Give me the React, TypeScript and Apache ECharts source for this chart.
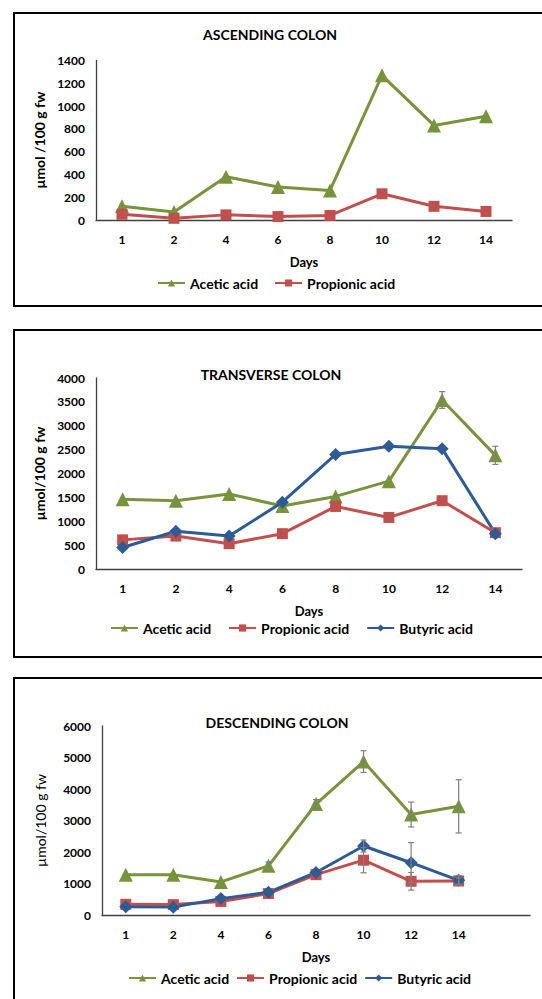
import React, { useEffect, useRef } from "react";
import * as echarts from "echarts";

const days = ["1", "2", "4", "6", "8", "10", "12", "14"];
const days3 = ["1", "2", "4", "6", "8", "10", "12", "14", ""];

// Ascending colon
const ascAcetic = [120, 70, 380, 290, 260, 1270, 830, 910];
const ascPropionic = [50, 15, 45, 30, 40, 230, 120, 75];

// Transverse colon
const trAcetic = [1460, 1430, 1570, 1320, 1520, 1840, 3540, 2380];
const trPropionic = [610, 690, 530, 740, 1310, 1080, 1430, 760];
const trButyric = [450, 790, 690, 1400, 2400, 2570, 2520, 740];
const trAceticErr = [0, 0, 0, 0, 0, 0, 175, 190];

// Descending colon
const deAcetic = [1280, 1280, 1050, 1560, 3520, 4870, 3190, 3450];
const dePropionic = [340, 330, 430, 680, 1280, 1740, 1070, 1080];
const deButyric = [260, 250, 520, 720, 1350, 2190, 1660, 1100];
const deAceticErr = [0, 0, 0, 120, 145, 345, 395, 845];
const dePropionicErr = [0, 0, 0, 0, 0, 400, 280, 100];
const deButyricErr = [0, 0, 0, 0, 0, 190, 640, 150];

const GREEN = "#77933C";
const RED = "#C0504D";
const BLUE = "#2D5B94";
const FONT = "Lato";

function errData(vals: number[], errs: number[]) {
  const out: number[][] = [];
  errs.forEach((e, i) => {
    if (e > 0) out.push([i, vals[i], e]);
  });
  return out;
}

function errSeries(idx: number, vals: number[], errs: number[]) {
  return {
    type: "custom",
    xAxisIndex: idx,
    yAxisIndex: idx,
    z: 5,
    silent: true,
    encode: { x: 0, y: 1 },
    data: errData(vals, errs),
    renderItem: (params: any, api: any) => {
      const x = api.value(0);
      const v = api.value(1);
      const e = api.value(2);
      const top = api.coord([x, v + e]);
      const bot = api.coord([x, v - e]);
      const cw = 3;
      const st = { stroke: "#7F7F7F", lineWidth: 1.2 };
      return {
        type: "group",
        children: [
          { type: "line", shape: { x1: top[0], y1: top[1], x2: bot[0], y2: bot[1] }, style: st },
          { type: "line", shape: { x1: top[0] - cw, y1: top[1], x2: top[0] + cw, y2: top[1] }, style: st },
          { type: "line", shape: { x1: bot[0] - cw, y1: bot[1], x2: bot[0] + cw, y2: bot[1] }, style: st },
        ],
      };
    },
  };
}

function lineSeries(idx: number, name: string, data: number[], color: string, symbol: string, size: number) {
  return {
    type: "line",
    name,
    xAxisIndex: idx,
    yAxisIndex: idx,
    data,
    symbol,
    symbolSize: size,
    lineStyle: { color, width: 3 },
    itemStyle: { color },
    z: 3,
  };
}

const axisLineStyle = { show: true, lineStyle: { color: "#404040", width: 1.3 } };
const labelStyle = { color: "#000", fontFamily: FONT, fontWeight: "bold" as const, fontSize: 12 };

function xAxis(idx: number, cats: string[]) {
  return {
    type: "category",
    gridIndex: idx,
    data: cats,
    boundaryGap: true,
    axisLine: axisLineStyle,
    axisTick: { show: false },
    axisLabel: { ...labelStyle, margin: 13, interval: 0 },
    name: "Days",
    nameLocation: "middle",
    nameGap: 35,
    nameTextStyle: { ...labelStyle, fontSize: 13 },
  };
}

function yAxis(idx: number, max: number, interval: number, name: string, gap: number, bold: boolean) {
  return {
    type: "value",
    gridIndex: idx,
    min: 0,
    max,
    interval,
    axisLine: axisLineStyle,
    axisTick: { show: false },
    splitLine: { show: false },
    axisLabel: { ...labelStyle, margin: 11, formatter: (v: number) => String(v) },
    name,
    nameLocation: "middle",
    nameGap: gap,
    nameRotate: 90,
    nameTextStyle: { ...labelStyle, fontSize: 14, fontWeight: bold ? "bold" : "normal" },
  };
}

function legend(names: string[], left: number, top: number, gap: number) {
  return {
    data: names,
    left,
    top,
    itemWidth: 27,
    itemHeight: 9,
    itemGap: gap,
    padding: 0,
    selectedMode: false,
    textStyle: { color: "#000", fontFamily: FONT, fontWeight: "bold", fontSize: 14 },
  };
}

function titleText(text: string, x: number, y: number) {
  return {
    type: "text",
    x,
    y,
    style: {
      text,
      fill: "#000",
      font: `bold 14px ${FONT}`,
      textAlign: "center",
      textVerticalAlign: "middle",
    },
  };
}

function border(y: number, h: number) {
  return {
    type: "rect",
    shape: { x: 14, y, width: 560, height: h },
    style: { fill: "none", stroke: "#000", lineWidth: 2 },
    silent: true,
  };
}

export default function App() {
  const ref = useRef<HTMLDivElement>(null);
  useEffect(() => {
    if (!ref.current) return;
    const chart = echarts.init(ref.current, undefined, { renderer: "svg" });
    chart.setOption({
      animation: false,
      backgroundColor: "#fff",
      grid: [
        { left: 96, top: 60.5, width: 416, height: 159.5 },
        { left: 96, top: 378, width: 426, height: 191 },
        { left: 102, top: 726, width: 428, height: 189 },
      ],
      xAxis: [xAxis(0, days), xAxis(1, days), xAxis(2, days3)],
      yAxis: [
        yAxis(0, 1400, 200, "µmol /100 g fw", 46, true),
        yAxis(1, 4000, 500, "µmol/100 g fw", 46, true),
        yAxis(2, 6000, 1000, "µmol/100 g fw", 55, false),
      ],
      legend: [
        legend(["Acetic acid", "Propionic acid"], 157, 276, 16),
        legend(["Acetic acid", "Propionic acid", "Butyric acid"], 110, 621, 17),
        legend(["Acetic acid", "Propionic acid", "Butyric acid"], 128, 971, 7),
      ],
      graphic: [
        border(13, 293),
        border(330, 327),
        border(678, 400),
        titleText("ASCENDING COLON", 270, 34),
        titleText("TRANSVERSE COLON", 271, 374),
        titleText("DESCENDING COLON", 277, 722),
      ],
      series: [
        lineSeries(0, "Acetic acid", ascAcetic, GREEN, "triangle", 14),
        lineSeries(0, "Propionic acid", ascPropionic, RED, "rect", 11),
        lineSeries(1, "Acetic acid", trAcetic, GREEN, "triangle", 14),
        lineSeries(1, "Propionic acid", trPropionic, RED, "rect", 11),
        lineSeries(1, "Butyric acid", trButyric, BLUE, "diamond", 13),
        errSeries(1, trAcetic, trAceticErr),
        lineSeries(2, "Acetic acid", deAcetic, GREEN, "triangle", 14),
        lineSeries(2, "Propionic acid", dePropionic, RED, "rect", 11),
        lineSeries(2, "Butyric acid", deButyric, BLUE, "diamond", 13),
        errSeries(2, deAcetic, deAceticErr),
        errSeries(2, dePropionic, dePropionicErr),
        errSeries(2, deButyric, deButyricErr),
      ],
    });
    return () => chart.dispose();
  }, []);
  return (
    <div
      ref={ref}
      style={{ position: "absolute", left: 0, top: 0, width: 542, height: 999 }}
    />
  );
}
